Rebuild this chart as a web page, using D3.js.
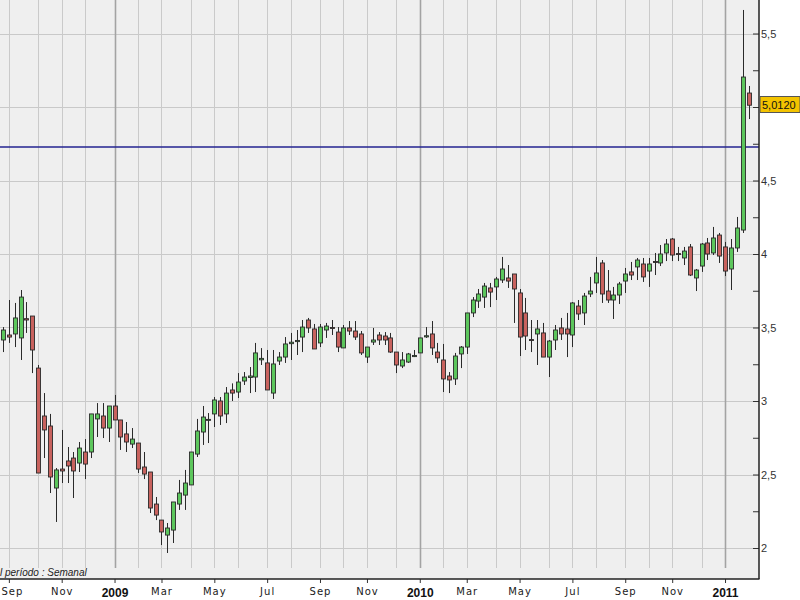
<!DOCTYPE html>
<html>
<head>
<meta charset="utf-8">
<script src="https://cdn.jsdelivr.net/npm/d3@7"></script>
<style>
  body { margin: 0; background: #fff; }
  svg { display: block; }
  .ylab text { font: 11px Arial, "Liberation Sans", sans-serif; fill: #333; }
  .xlab text { font: 10px "DejaVu Sans", Verdana, sans-serif; fill: #1a1a1a; letter-spacing: 1px; }
</style>
</head>
<body>
<svg id="chart" width="800" height="600"></svg>
<script>
// weekly bars, Monday of each week
const dates = d3.timeMonday.range(new Date(2008, 7, 25), new Date(2011, 1, 1))

const opens = [3.415,3.449,3.456,3.429,3.56,3.578,3.224,2.898,2.83,2.408,
  2.537,2.592,2.612,2.578,2.653,2.653,2.878,2.898,2.816,2.966,
  2.871,2.776,2.707,2.714,2.551,2.517,2.299,2.19,2.088,2.122,
  2.299,2.36,2.429,2.639,2.789,2.87,2.912,3.0,2.912,3.075,
  3.061,3.136,3.16,3.163,3.28,3.259,3.054,3.272,3.299,3.39,
  3.404,3.435,3.551,3.49,3.395,3.483,3.5,3.469,3.361,3.497,
  3.476,3.456,3.299,3.401,3.449,3.442,3.429,3.333,3.238,3.265,
  3.302,3.327,3.436,3.456,3.333,3.279,3.17,3.15,3.32,3.367,
  3.599,3.68,3.707,3.769,3.776,3.823,3.837,3.864,3.735,3.599,
  3.418,3.456,3.463,3.299,3.415,3.497,3.49,3.449,3.646,3.599,
  3.728,3.803,3.939,3.748,3.687,3.721,3.816,3.878,3.912,3.932,
  3.884,3.949,3.939,4.007,4.102,4.003,3.973,4.048,3.837,3.918,
  4.075,4.007,4.129,4.048,3.898,4.041,4.163,5.095]
const highs = [3.503,3.687,3.667,3.755,3.673,3.578,3.245,3.054,2.912,2.544,
  2.803,2.687,2.653,2.721,2.741,2.912,2.986,2.986,2.966,3.041,
  2.871,2.857,2.816,2.714,2.653,2.517,2.347,2.19,2.17,2.313,
  2.463,2.531,2.653,2.878,2.966,2.918,3.027,3.027,3.095,3.12,
  3.19,3.197,3.231,3.395,3.36,3.347,3.347,3.333,3.435,3.463,
  3.483,3.551,3.565,3.524,3.524,3.531,3.551,3.503,3.517,3.544,
  3.544,3.476,3.367,3.497,3.469,3.469,3.463,3.333,3.333,3.327,
  3.347,3.429,3.503,3.544,3.395,3.388,3.197,3.327,3.374,3.599,
  3.707,3.762,3.803,3.803,3.844,3.98,3.925,3.864,3.762,3.701,
  3.551,3.551,3.531,3.415,3.517,3.565,3.599,3.673,3.687,3.735,
  3.844,3.98,3.959,3.891,3.776,3.81,3.905,3.946,3.973,3.973,
  3.973,4.007,4.061,4.102,4.109,4.048,4.048,4.068,3.898,4.075,
  4.109,4.184,4.143,4.082,4.102,4.252,5.66,5.143]
const lows = [3.333,3.395,3.367,3.279,3.463,3.19,2.51,2.612,2.374,2.177,
  2.442,2.442,2.34,2.517,2.469,2.612,2.755,2.748,2.721,2.871,
  2.667,2.653,2.68,2.51,2.469,2.238,2.19,2.02,1.966,2.034,
  2.259,2.259,2.429,2.619,2.701,2.714,2.823,2.837,2.85,3.0,
  3.02,3.109,3.054,3.061,3.245,3.075,3.014,3.245,3.259,3.279,
  3.313,3.333,3.463,3.354,3.367,3.429,3.449,3.333,3.361,3.449,
  3.415,3.313,3.259,3.381,3.381,3.381,3.327,3.19,3.224,3.259,
  3.299,3.327,3.429,3.313,3.259,3.061,3.054,3.109,3.224,3.32,
  3.571,3.633,3.633,3.639,3.687,3.803,3.769,3.531,3.306,3.347,
  3.333,3.245,3.299,3.163,3.347,3.415,3.299,3.367,3.551,3.517,
  3.707,3.735,3.667,3.667,3.558,3.66,3.735,3.823,3.823,3.81,
  3.776,3.857,3.918,3.952,3.952,3.952,3.925,3.85,3.748,3.878,
  3.959,3.993,3.939,3.85,3.755,4.014,4.143,4.918]
const closes = [3.483,3.435,3.565,3.707,3.551,3.347,2.51,2.803,2.483,2.531,
  2.524,2.558,2.524,2.68,2.571,2.912,2.912,2.816,2.966,2.871,
  2.755,2.721,2.741,2.537,2.503,2.272,2.224,2.109,2.136,2.313,
  2.374,2.442,2.653,2.796,2.891,2.875,3.007,2.898,3.054,3.054,
  3.129,3.163,3.17,3.327,3.29,3.075,3.252,3.299,3.388,3.4,
  3.412,3.503,3.497,3.354,3.503,3.51,3.494,3.367,3.497,3.476,
  3.435,3.327,3.367,3.415,3.415,3.415,3.333,3.245,3.279,3.32,
  3.31,3.429,3.444,3.361,3.293,3.15,3.143,3.306,3.367,3.599,
  3.687,3.728,3.782,3.741,3.83,3.898,3.816,3.762,3.435,3.442,
  3.412,3.49,3.299,3.408,3.483,3.456,3.456,3.667,3.592,3.714,
  3.748,3.871,3.728,3.687,3.721,3.796,3.864,3.857,3.959,3.844,
  3.932,3.943,4.0,4.068,3.993,3.997,4.02,3.857,3.891,4.068,
  4.0,4.109,3.986,3.884,4.041,4.177,5.204,5.012]

const yTicks = [2, 2.5, 3, 3.5, 4, 4.5, 5, 5.5]
const yTickLabels = ['2', '2,5', '3', '3,5', '4', '4,5', '5', '5,5']
const yMinorTicks = [2.25, 2.75, 3.25, 3.75, 4.25, 4.75, 5.25]
const xTickLabels = ['Sep', 'Nov', '2009', 'Mar', 'May', 'Jul', 'Sep', 'Nov',
  '2010', 'Mar', 'May', 'Jul', 'Sep', 'Nov', '2011']
const refLevel = 4.728
const lastLabel = '5,0120'
const periodText = 'l período : Semanal'

const svg = d3.select('#chart')
const plotRight = 759
const plotBottom = 579
const gridBottom = 568

const x = d3.scaleLinear()
    .domain([0, dates.length - 1])
    .range([3, 748.5])

const y = d3.scaleLinear()
    .domain([2, 5.5])
    .range([548, 33.5])

const lastY = y(closes[closes.length - 1])

// plot background
svg.append('rect')
    .attr('width', plotRight)
    .attr('height', plotBottom)
    .attr('fill', '#efefef')

// first bar of every month
const monthStarts = dates.map((d, i) => i).filter(i => i > 0 && dates[i].getMonth() !== dates[i - 1].getMonth())
const labelStarts = monthStarts.filter(i => dates[i].getMonth() % 2 === 0)

svg.append('g').selectAll('line')
    .data(yTicks)
    .enter().append('line')
    .attr('x1', 0).attr('x2', plotRight)
    .attr('y1', d => Math.round(y(d)) + 0.5).attr('y2', d => Math.round(y(d)) + 0.5)
    .attr('stroke', '#c9c9c9')

svg.append('g').selectAll('line')
    .data(monthStarts)
    .enter().append('line')
    .attr('x1', i => Math.round(x(i)) + 0.5).attr('x2', i => Math.round(x(i)) + 0.5)
    .attr('y1', 0).attr('y2', gridBottom)
    .attr('stroke', i => dates[i].getMonth() === 0 ? '#a3a3a3' : '#cacaca')
    .attr('stroke-width', i => dates[i].getMonth() === 0 ? 1.6 : 1)

// reference line
svg.append('line')
    .attr('x1', 0).attr('x2', plotRight)
    .attr('y1', y(refLevel)).attr('y2', y(refLevel))
    .attr('stroke', '#232390')
    .attr('stroke-width', 1.5)

// candles
const candles = svg.append('g').selectAll('g')
    .data(dates.map((d, i) => i))
    .enter().append('g')

candles.append('line')
    .attr('x1', i => Math.round(x(i)) + 0.5).attr('x2', i => Math.round(x(i)) + 0.5)
    .attr('y1', i => y(highs[i])).attr('y2', i => y(lows[i]))
    .attr('stroke', '#2a2a2a')

candles.append('rect')
    .attr('x', i => Math.round(x(i)) - 1.5)
    .attr('width', 4)
    .attr('y', i => y(Math.max(opens[i], closes[i])))
    .attr('height', i => Math.max(1, Math.abs(y(opens[i]) - y(closes[i]))))
    .attr('fill', i => closes[i] >= opens[i] ? '#5cc65c' : '#c8625e')
    .attr('stroke', '#2a2a2a')
    .attr('stroke-width', 0.9)

svg.append('text')
    .attr('x', 0)
    .attr('y', 576)
    .attr('font-family', 'Arial, "Liberation Sans", sans-serif')
    .attr('font-size', 10)
    .attr('font-style', 'italic')
    .attr('fill', '#222')
    .text(periodText)

// right axis (label hidden under the last price tag, as in the original)
const yAxisG = svg.append('g')
    .attr('class', 'ylab')
    .attr('transform', `translate(${plotRight},0)`)
    .call(d3.axisRight(y).tickValues(yTicks).tickSize(-6).tickPadding(2)
        .tickFormat((d, i) => Math.abs(y(d) - lastY) < 12 ? '' : yTickLabels[i]))
yAxisG.select('.domain').remove()
yAxisG.selectAll('line').attr('stroke', '#333')

const yMinorG = svg.append('g')
    .attr('transform', `translate(${plotRight},0)`)
    .call(d3.axisRight(y).tickValues(yMinorTicks).tickSize(-6).tickFormat(''))
yMinorG.select('.domain').remove()
yMinorG.selectAll('line').attr('stroke', '#333')

// bottom axis
const xAxisG = svg.append('g')
    .attr('class', 'xlab')
    .attr('transform', `translate(0,${plotBottom})`)
    .call(d3.axisBottom(x).tickValues(labelStarts).tickSize(4).tickPadding(5)
        .tickFormat((d, i) => xTickLabels[i]))
xAxisG.select('.domain').remove()
xAxisG.selectAll('line').attr('stroke', '#333')
xAxisG.selectAll('text')
    .filter(d => dates[d].getMonth() === 0)
    .style('font', 'bold 12px Arial, "Liberation Sans", sans-serif')
    .style('letter-spacing', '0px')
    .style('fill', '#111')
// keep the first label inside the picture
xAxisG.selectAll('text').each(function (d) {
    const w = this.getComputedTextLength()
    const left = x(d) - w / 2
    if (left < 1) d3.select(this).attr('x', 1 - left)
})

// frame lines
svg.append('line')
    .attr('x1', 0).attr('x2', plotRight + 0.5)
    .attr('y1', plotBottom).attr('y2', plotBottom)
    .attr('stroke', '#222').attr('stroke-width', 1.5)
svg.append('line')
    .attr('x1', plotRight).attr('x2', plotRight)
    .attr('y1', 0).attr('y2', plotBottom)
    .attr('stroke', '#222').attr('stroke-width', 1.5)

// last price tag
svg.append('rect')
    .attr('x', plotRight + 1)
    .attr('y', Math.round(lastY) - 8.5)
    .attr('width', 40)
    .attr('height', 16)
    .attr('fill', '#f3c300')
    .attr('stroke', '#555')
svg.append('text')
    .attr('x', plotRight + 3)
    .attr('y', lastY + 4)
    .attr('font-family', 'Arial, "Liberation Sans", sans-serif')
    .attr('font-size', 11)
    .attr('fill', '#111')
    .text(lastLabel)
</script>
</body>
</html>
